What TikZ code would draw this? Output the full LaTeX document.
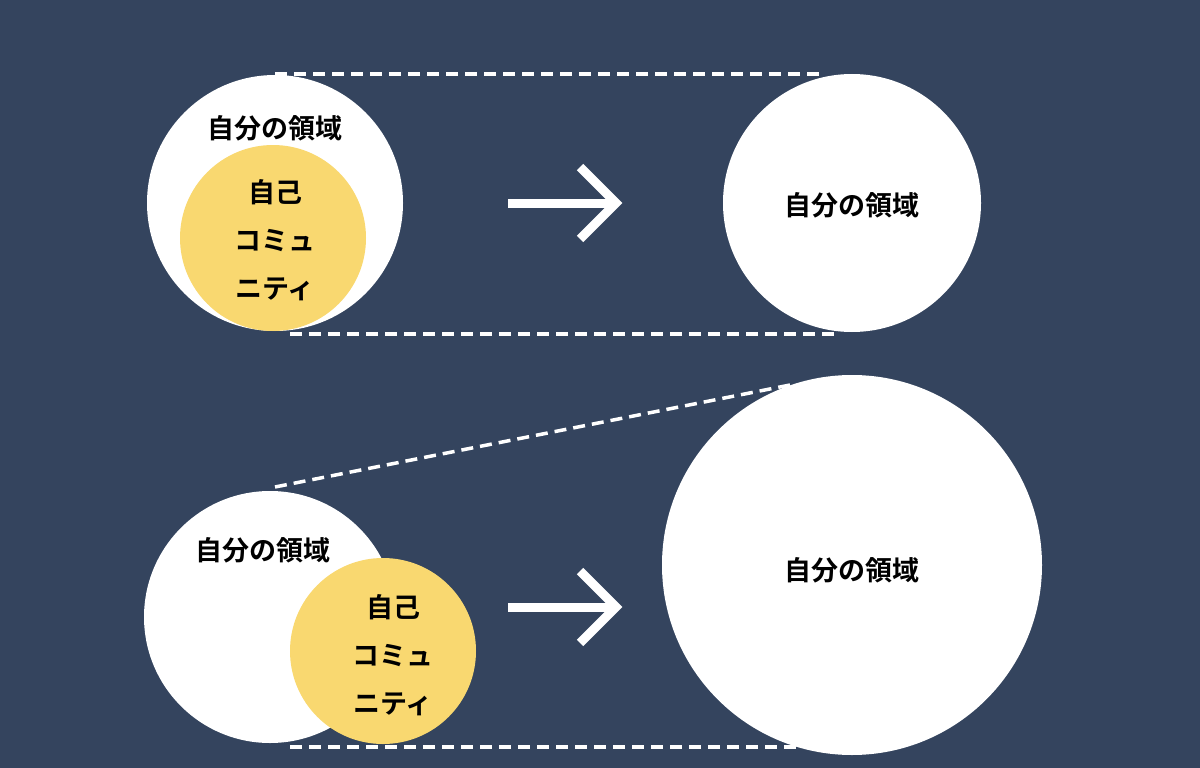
\documentclass[tikz,border=0pt]{standalone}
\usepackage{fontspec}
\setmainfont{Noto Sans CJK JP}[BoldFont={* Bold}]
\begin{document}
\begin{tikzpicture}[x=1pt,y=-1pt,
  lbl/.style={font=\fontsize{27}{30}\selectfont\bfseries,text=black,align=center},
  wc/.style={fill=white},
  yc/.style={fill=yel},
  dsh/.style={white,line width=3.5pt,dash pattern=on 12pt off 7pt},
  arr/.style={white,line width=9pt}]
\definecolor{bg}{HTML}{34445E}
\definecolor{yel}{HTML}{F9D870}
\fill[bg] (0,0) rectangle (1200,768);
\useasboundingbox (0,0) rectangle (1200,768);
% top
\fill[wc] (275,203) circle (128);
\fill[yc] (273,238) circle (93);
\fill[wc] (852,203) circle (129);
\node[lbl] (t1) at (275,128) {自分の領域};
\node[lbl,font=\fontsize{27}{48}\selectfont\bfseries] (t2) at (275,240) {自己\\コミュ\\ニティ};
\node[lbl] (t3) at (852,205) {自分の領域};
\coordinate (a1) at (275,74); \coordinate (a2) at (820,74);
\coordinate (b1) at (290,334); \coordinate (b2) at (835,334);
\draw[dsh] (a1) -- (a2); \draw[dsh] (b1) -- (b2);
\coordinate (r1) at (508,203); \coordinate (r2) at (616,203);
\draw[arr] (r1) -- (r2);
\draw[arr,line join=miter] (580,167) -- (r2) -- (580,239);
% bottom
\fill[wc] (270,617) circle (126);
\fill[yc] (383,651) circle (93);
\fill[wc] (852,565) circle (190);
\node[lbl] (u1) at (263,550) {自分の領域};
\node[lbl,font=\fontsize{27}{48}\selectfont\bfseries] (u2) at (393,655) {自己\\コミュ\\ニティ};
\node[lbl] (u3) at (852,570) {自分の領域};
\coordinate (c1) at (275,487); \coordinate (c2) at (790,385);
\coordinate (d1) at (290,747); \coordinate (d2) at (800,747);
\draw[dsh] (c1) -- (c2); \draw[dsh] (d1) -- (d2);
\coordinate (s1) at (508,607); \coordinate (s2) at (616,607);
\draw[arr] (s1) -- (s2);
\draw[arr,line join=miter] (580,571) -- (s2) -- (580,643);
\end{tikzpicture}
\end{document}
